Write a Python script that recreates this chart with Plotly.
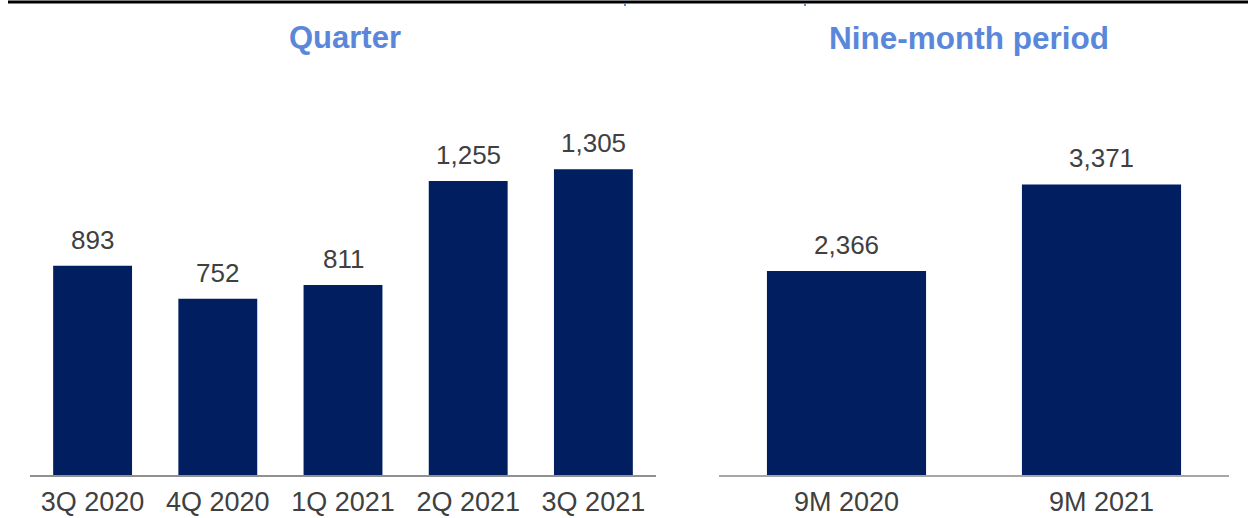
import plotly.graph_objects as go

# Data
quarter_labels = ["3Q 2020", "4Q 2020", "1Q 2021", "2Q 2021", "3Q 2021"]
quarter_values = [893, 752, 811, 1255, 1305]
nine_labels = ["9M 2020", "9M 2021"]
nine_values = [2366, 3371]

W, H = 1248, 518
BAR = "#001E60"
TXT = "#404040"
TITLE = "#5B87DA"
FONT = "Liberation Sans, Arial, sans-serif"

fmt = lambda v: f"{v:,}"

fig = go.Figure()
fig.add_trace(go.Bar(x=quarter_labels, y=quarter_values, marker=dict(color=BAR, line=dict(width=0)),
                     width=0.63, xaxis="x", yaxis="y", hoverinfo="skip"))
fig.add_trace(go.Bar(x=nine_labels, y=nine_values, marker=dict(color=BAR, line=dict(width=0)),
                     width=0.624, xaxis="x2", yaxis="y2", hoverinfo="skip"))

annotations = []
for lab, v in zip(quarter_labels, quarter_values):
    annotations.append(dict(x=lab, y=v, xref="x", yref="y", text=fmt(v), showarrow=False,
                            yanchor="bottom", yshift=9, font=dict(size=26, color=TXT, family=FONT)))
for lab, v in zip(nine_labels, nine_values):
    annotations.append(dict(x=lab, y=v, xref="x2", yref="y2", text=fmt(v), showarrow=False,
                            yanchor="bottom", yshift=9, font=dict(size=26, color=TXT, family=FONT)))
annotations.append(dict(x=(289 + 401) / 2 / W, y=1 - 38 / H, xref="paper", yref="paper", text="<b>Quarter</b>",
                        showarrow=False, xanchor="center", yanchor="middle",
                        font=dict(size=31, color=TITLE, family=FONT)))
annotations.append(dict(x=(828 + 1110) / 2 / W, y=1 - 38 / H, xref="paper", yref="paper",
                        text="<b>Nine-month period</b>", showarrow=False, xanchor="center", yanchor="middle",
                        font=dict(size=31.5, color=TITLE, family=FONT)))

ybot = 43 / H
tickfont = dict(size=27, color=TXT, family=FONT)
fig.update_layout(
    width=W, height=H, margin=dict(l=0, r=0, t=0, b=0, autoexpand=False),
    paper_bgcolor="white", plot_bgcolor="white", showlegend=False,
    font=dict(family=FONT),
    xaxis=dict(domain=[30 / W, 656 / W], showline=True, linecolor="#909090", linewidth=2,
               ticks="", tickfont=tickfont, ticklabelstandoff=2, showgrid=False, zeroline=False,
               fixedrange=True, automargin=False),
    yaxis=dict(domain=[ybot, 1], range=[0, 474 * 1305 / 305], visible=False, showgrid=False, fixedrange=True),
    xaxis2=dict(domain=[719 / W, 1229 / W], showline=True, linecolor="#a6a6a6", linewidth=1.5,
                ticks="", tickfont=tickfont, ticklabelstandoff=2, showgrid=False, zeroline=False,
                anchor="y2", fixedrange=True, automargin=False),
    yaxis2=dict(domain=[ybot, 1], range=[0, 474 * 3371 / 290], visible=False, showgrid=False,
                anchor="x2", fixedrange=True),
    annotations=annotations,
    shapes=[
        dict(type="rect", xref="paper", yref="paper", x0=8 / W, x1=1, y0=1 - 3.5 / H, y1=1 - 0.5 / H,
             fillcolor="black", line=dict(width=0)),
        dict(type="line", xref="paper", yref="paper", x0=625 / W, x1=625 / W, y0=1 - 6 / H, y1=1 - 3 / H,
             line=dict(color=TITLE, width=2)),
        dict(type="line", xref="paper", yref="paper", x0=805 / W, x1=805 / W, y0=1 - 6 / H, y1=1 - 3 / H,
             line=dict(color=TITLE, width=2)),
    ],
)

fig.write_html("out.html")
